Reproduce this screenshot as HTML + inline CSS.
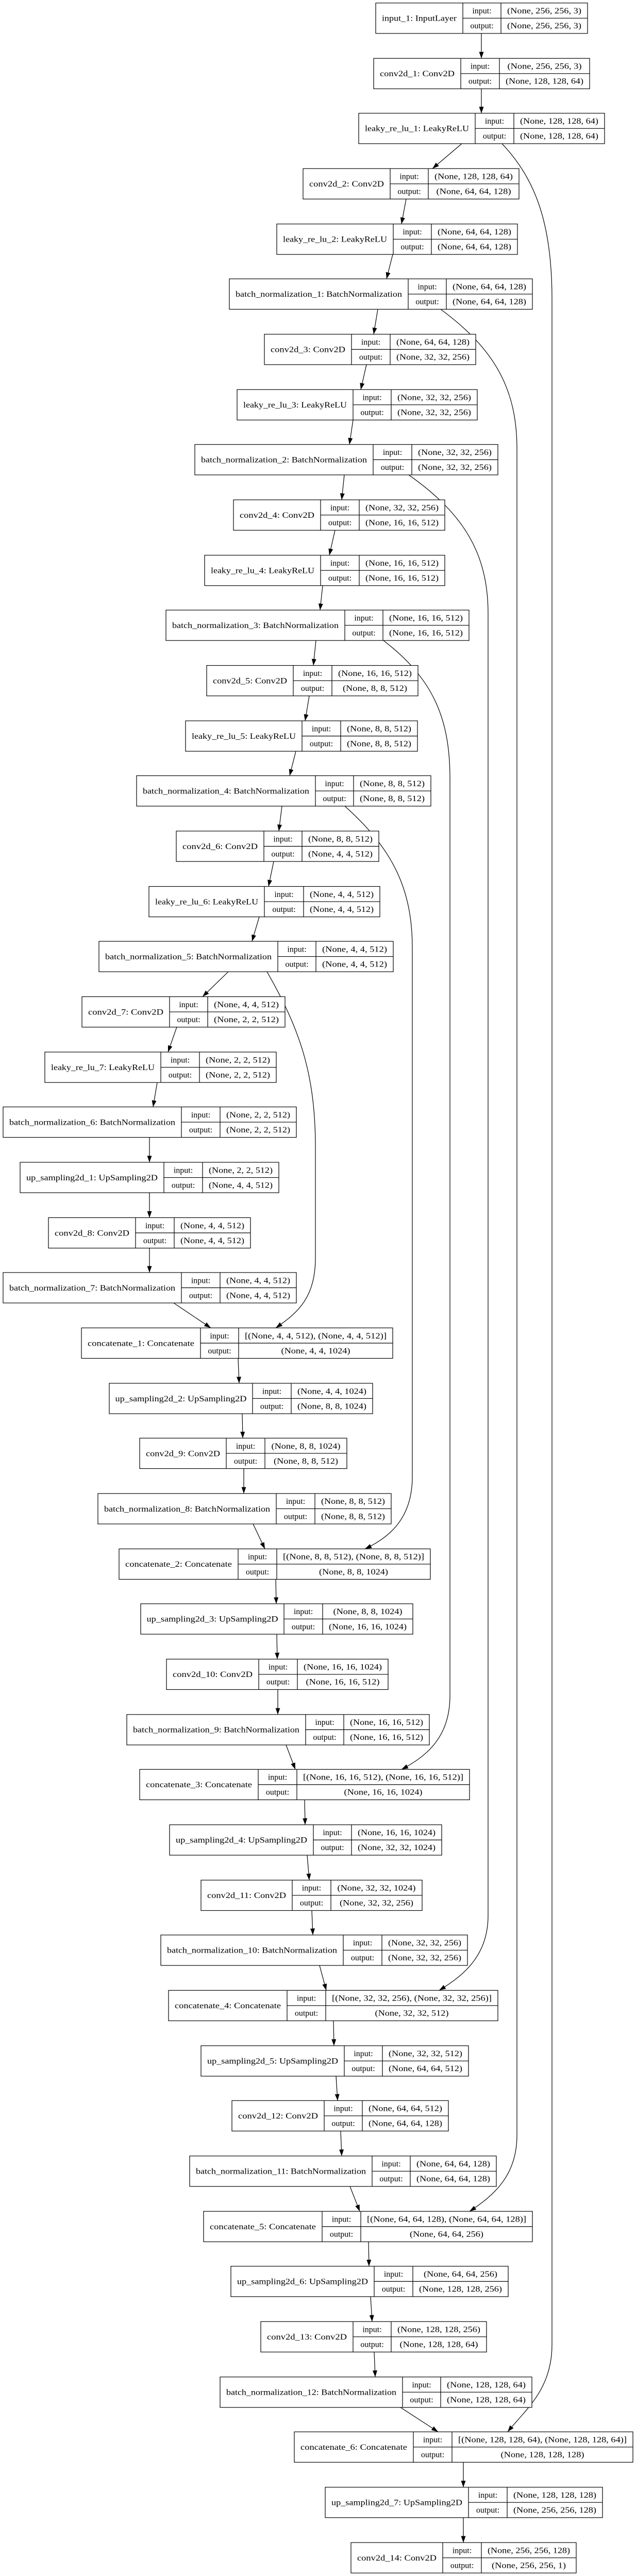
<!DOCTYPE html>
<html><head><meta charset="utf-8"><style>
html,body{margin:0;padding:0;background:#fff;width:100%;height:100%;overflow:hidden;}
svg{display:block;position:fixed;left:0;top:0;width:100vw;height:100vh;}
text{font-family:"Liberation Serif","DejaVu Serif",serif;font-size:16px;fill:#000;}
</style></head><body>
<svg xmlns="http://www.w3.org/2000/svg" viewBox="0 0 1234 5164" preserveAspectRatio="none">
<defs>
<marker id="a" markerUnits="userSpaceOnUse" markerWidth="14" markerHeight="10" refX="13" refY="4.5" orient="auto"><path d="M0,0 L13,4.5 L0,9 z" fill="#000"/></marker>
</defs>
<rect width="1234" height="5164" fill="#fff"/>
<g fill="none" stroke="#000" stroke-width="1.2" marker-end="url(#a)">
<path d="M934,67 L934,117"/>
<path d="M934,178 L934,227"/>
<path d="M896,288 L839,338"/>
<path d="M788,399 L779,449"/>
<path d="M762,510 L750,559"/>
<path d="M733,620 L725,670"/>
<path d="M711,731 L700,781"/>
<path d="M685,842 L678,891"/>
<path d="M668,952 L663,1002"/>
<path d="M650,1063 L639,1113"/>
<path d="M626,1174 L621,1223"/>
<path d="M613,1284 L608,1334"/>
<path d="M600,1395 L592,1445"/>
<path d="M574,1506 L562,1555"/>
<path d="M547,1616 L541,1666"/>
<path d="M531,1727 L521,1777"/>
<path d="M503,1838 L489,1887"/>
<path d="M443,1948 L393,1998"/>
<path d="M343,2059 L326,2109"/>
<path d="M305,2170 L297,2219"/>
<path d="M290,2280 L290,2330"/>
<path d="M290,2391 L290,2441"/>
<path d="M290,2502 L290,2551"/>
<path d="M337,2612 L409,2662"/>
<path d="M462,2723 L464,2773"/>
<path d="M470,2834 L471,2883"/>
<path d="M473,2944 L473,2994"/>
<path d="M491,3055 L514,3105"/>
<path d="M535,3166 L536,3215"/>
<path d="M537,3276 L538,3326"/>
<path d="M539,3387 L539,3437"/>
<path d="M555,3498 L573,3547"/>
<path d="M591,3608 L592,3658"/>
<path d="M596,3719 L600,3769"/>
<path d="M605,3830 L607,3879"/>
<path d="M620,3940 L633,3990"/>
<path d="M647,4051 L648,4101"/>
<path d="M652,4162 L655,4211"/>
<path d="M661,4272 L663,4322"/>
<path d="M679,4383 L698,4433"/>
<path d="M715,4494 L716,4543"/>
<path d="M719,4604 L722,4654"/>
<path d="M726,4715 L728,4765"/>
<path d="M777,4826 L850,4875"/>
<path d="M899,4936 L899,4986"/>
<path d="M899,5047 L899,5097"/>
<path d="M974,288 C1040,360 1071,450 1071,600 L1071,4700 C1071,4790 1020,4830 985,4875"/>
<path d="M855,620 C960,700 1003,780 1003,900 L1003,4280 C1003,4360 960,4400 911,4433"/>
<path d="M793,952 C900,1030 947,1110 947,1230 L947,3840 C947,3920 900,3960 852,3990"/>
<path d="M744,1284 C840,1360 873,1440 873,1560 L873,3400 C873,3480 830,3520 779,3547"/>
<path d="M669,1616 C760,1700 800,1780 800,1900 L800,2960 C800,3040 760,3080 708,3105"/>
<path d="M518,1948 C580,2060 612,2150 612,2300 L612,2520 C612,2600 580,2630 535,2662"/>
</g>
<g text-anchor="middle">
<g transform="translate(0,6)"><rect x="729" y="0" width="411" height="61" fill="#fff" stroke="#000" stroke-width="1.2"/><path d="M898,0V61M972,0V61M898,30.5H1140" stroke="#000" stroke-width="1.2"/><text x="813.5" y="36" textLength="145" lengthAdjust="spacingAndGlyphs">input_1: InputLayer</text><text x="935" y="21">input:</text><text x="935" y="51">output:</text><text x="1056" y="21" textLength="144" lengthAdjust="spacingAndGlyphs">(None, 256, 256, 3)</text><text x="1056" y="51" textLength="144" lengthAdjust="spacingAndGlyphs">(None, 256, 256, 3)</text></g>
<g transform="translate(0,117)"><rect x="725" y="0" width="419" height="61" fill="#fff" stroke="#000" stroke-width="1.2"/><path d="M894,0V61M969,0V61M894,30.5H1144" stroke="#000" stroke-width="1.2"/><text x="809.5" y="36" textLength="145" lengthAdjust="spacingAndGlyphs">conv2d_1: Conv2D</text><text x="931.5" y="21">input:</text><text x="931.5" y="51">output:</text><text x="1056.5" y="21" textLength="144" lengthAdjust="spacingAndGlyphs">(None, 256, 256, 3)</text><text x="1056.5" y="51" textLength="151" lengthAdjust="spacingAndGlyphs">(None, 128, 128, 64)</text></g>
<g transform="translate(0,227)"><rect x="696" y="0" width="477" height="61" fill="#fff" stroke="#000" stroke-width="1.2"/><path d="M922,0V61M997,0V61M922,30.5H1173" stroke="#000" stroke-width="1.2"/><text x="809" y="36" textLength="202" lengthAdjust="spacingAndGlyphs">leaky_re_lu_1: LeakyReLU</text><text x="959.5" y="21">input:</text><text x="959.5" y="51">output:</text><text x="1085" y="21" textLength="152" lengthAdjust="spacingAndGlyphs">(None, 128, 128, 64)</text><text x="1085" y="51" textLength="152" lengthAdjust="spacingAndGlyphs">(None, 128, 128, 64)</text></g>
<g transform="translate(0,338)"><rect x="588" y="0" width="419" height="61" fill="#fff" stroke="#000" stroke-width="1.2"/><path d="M757,0V61M831,0V61M757,30.5H1007" stroke="#000" stroke-width="1.2"/><text x="672.5" y="36" textLength="145" lengthAdjust="spacingAndGlyphs">conv2d_2: Conv2D</text><text x="794" y="21">input:</text><text x="794" y="51">output:</text><text x="919" y="21" textLength="152" lengthAdjust="spacingAndGlyphs">(None, 128, 128, 64)</text><text x="919" y="51" textLength="145" lengthAdjust="spacingAndGlyphs">(None, 64, 64, 128)</text></g>
<g transform="translate(0,449)"><rect x="537" y="0" width="467" height="61" fill="#fff" stroke="#000" stroke-width="1.2"/><path d="M763,0V61M837,0V61M763,30.5H1004" stroke="#000" stroke-width="1.2"/><text x="650" y="36" textLength="202" lengthAdjust="spacingAndGlyphs">leaky_re_lu_2: LeakyReLU</text><text x="800" y="21">input:</text><text x="800" y="51">output:</text><text x="920.5" y="21" textLength="143" lengthAdjust="spacingAndGlyphs">(None, 64, 64, 128)</text><text x="920.5" y="51" textLength="143" lengthAdjust="spacingAndGlyphs">(None, 64, 64, 128)</text></g>
<g transform="translate(0,559)"><rect x="445" y="0" width="588" height="61" fill="#fff" stroke="#000" stroke-width="1.2"/><path d="M792,0V61M866,0V61M792,30.5H1033" stroke="#000" stroke-width="1.2"/><text x="618.5" y="36" textLength="323" lengthAdjust="spacingAndGlyphs">batch_normalization_1: BatchNormalization</text><text x="829" y="21">input:</text><text x="829" y="51">output:</text><text x="949.5" y="21" textLength="143" lengthAdjust="spacingAndGlyphs">(None, 64, 64, 128)</text><text x="949.5" y="51" textLength="143" lengthAdjust="spacingAndGlyphs">(None, 64, 64, 128)</text></g>
<g transform="translate(0,670)"><rect x="513" y="0" width="410" height="61" fill="#fff" stroke="#000" stroke-width="1.2"/><path d="M682,0V61M757,0V61M682,30.5H923" stroke="#000" stroke-width="1.2"/><text x="597.5" y="36" textLength="145" lengthAdjust="spacingAndGlyphs">conv2d_3: Conv2D</text><text x="719.5" y="21">input:</text><text x="719.5" y="51">output:</text><text x="840" y="21" textLength="142" lengthAdjust="spacingAndGlyphs">(None, 64, 64, 128)</text><text x="840" y="51" textLength="142" lengthAdjust="spacingAndGlyphs">(None, 32, 32, 256)</text></g>
<g transform="translate(0,781)"><rect x="460" y="0" width="466" height="61" fill="#fff" stroke="#000" stroke-width="1.2"/><path d="M685,0V61M759,0V61M685,30.5H926" stroke="#000" stroke-width="1.2"/><text x="572.5" y="36" textLength="201" lengthAdjust="spacingAndGlyphs">leaky_re_lu_3: LeakyReLU</text><text x="722" y="21">input:</text><text x="722" y="51">output:</text><text x="842.5" y="21" textLength="143" lengthAdjust="spacingAndGlyphs">(None, 32, 32, 256)</text><text x="842.5" y="51" textLength="143" lengthAdjust="spacingAndGlyphs">(None, 32, 32, 256)</text></g>
<g transform="translate(0,891)"><rect x="378" y="0" width="588" height="61" fill="#fff" stroke="#000" stroke-width="1.2"/><path d="M724,0V61M799,0V61M724,30.5H966" stroke="#000" stroke-width="1.2"/><text x="551" y="36" textLength="322" lengthAdjust="spacingAndGlyphs">batch_normalization_2: BatchNormalization</text><text x="761.5" y="21">input:</text><text x="761.5" y="51">output:</text><text x="882.5" y="21" textLength="143" lengthAdjust="spacingAndGlyphs">(None, 32, 32, 256)</text><text x="882.5" y="51" textLength="143" lengthAdjust="spacingAndGlyphs">(None, 32, 32, 256)</text></g>
<g transform="translate(0,1002)"><rect x="453" y="0" width="410" height="61" fill="#fff" stroke="#000" stroke-width="1.2"/><path d="M622,0V61M697,0V61M622,30.5H863" stroke="#000" stroke-width="1.2"/><text x="537.5" y="36" textLength="145" lengthAdjust="spacingAndGlyphs">conv2d_4: Conv2D</text><text x="659.5" y="21">input:</text><text x="659.5" y="51">output:</text><text x="780" y="21" textLength="142" lengthAdjust="spacingAndGlyphs">(None, 32, 32, 256)</text><text x="780" y="51" textLength="142" lengthAdjust="spacingAndGlyphs">(None, 16, 16, 512)</text></g>
<g transform="translate(0,1113)"><rect x="397" y="0" width="466" height="61" fill="#fff" stroke="#000" stroke-width="1.2"/><path d="M622,0V61M697,0V61M622,30.5H863" stroke="#000" stroke-width="1.2"/><text x="509.5" y="36" textLength="201" lengthAdjust="spacingAndGlyphs">leaky_re_lu_4: LeakyReLU</text><text x="659.5" y="21">input:</text><text x="659.5" y="51">output:</text><text x="780" y="21" textLength="142" lengthAdjust="spacingAndGlyphs">(None, 16, 16, 512)</text><text x="780" y="51" textLength="142" lengthAdjust="spacingAndGlyphs">(None, 16, 16, 512)</text></g>
<g transform="translate(0,1223)"><rect x="322" y="0" width="588" height="61" fill="#fff" stroke="#000" stroke-width="1.2"/><path d="M669,0V61M743,0V61M669,30.5H910" stroke="#000" stroke-width="1.2"/><text x="495.5" y="36" textLength="323" lengthAdjust="spacingAndGlyphs">batch_normalization_3: BatchNormalization</text><text x="706" y="21">input:</text><text x="706" y="51">output:</text><text x="826.5" y="21" textLength="143" lengthAdjust="spacingAndGlyphs">(None, 16, 16, 512)</text><text x="826.5" y="51" textLength="143" lengthAdjust="spacingAndGlyphs">(None, 16, 16, 512)</text></g>
<g transform="translate(0,1334)"><rect x="401" y="0" width="410" height="61" fill="#fff" stroke="#000" stroke-width="1.2"/><path d="M569,0V61M644,0V61M569,30.5H811" stroke="#000" stroke-width="1.2"/><text x="485" y="36" textLength="144" lengthAdjust="spacingAndGlyphs">conv2d_5: Conv2D</text><text x="606.5" y="21">input:</text><text x="606.5" y="51">output:</text><text x="727.5" y="21" textLength="143" lengthAdjust="spacingAndGlyphs">(None, 16, 16, 512)</text><text x="727.5" y="51" textLength="125" lengthAdjust="spacingAndGlyphs">(None, 8, 8, 512)</text></g>
<g transform="translate(0,1445)"><rect x="360" y="0" width="450" height="61" fill="#fff" stroke="#000" stroke-width="1.2"/><path d="M586,0V61M661,0V61M586,30.5H810" stroke="#000" stroke-width="1.2"/><text x="473" y="36" textLength="202" lengthAdjust="spacingAndGlyphs">leaky_re_lu_5: LeakyReLU</text><text x="623.5" y="21">input:</text><text x="623.5" y="51">output:</text><text x="735.5" y="21" textLength="125" lengthAdjust="spacingAndGlyphs">(None, 8, 8, 512)</text><text x="735.5" y="51" textLength="125" lengthAdjust="spacingAndGlyphs">(None, 8, 8, 512)</text></g>
<g transform="translate(0,1555)"><rect x="265" y="0" width="571" height="61" fill="#fff" stroke="#000" stroke-width="1.2"/><path d="M612,0V61M686,0V61M612,30.5H836" stroke="#000" stroke-width="1.2"/><text x="438.5" y="36" textLength="323" lengthAdjust="spacingAndGlyphs">batch_normalization_4: BatchNormalization</text><text x="649" y="21">input:</text><text x="649" y="51">output:</text><text x="761" y="21" textLength="126" lengthAdjust="spacingAndGlyphs">(None, 8, 8, 512)</text><text x="761" y="51" textLength="126" lengthAdjust="spacingAndGlyphs">(None, 8, 8, 512)</text></g>
<g transform="translate(0,1666)"><rect x="342" y="0" width="393" height="61" fill="#fff" stroke="#000" stroke-width="1.2"/><path d="M512,0V61M586,0V61M512,30.5H735" stroke="#000" stroke-width="1.2"/><text x="427" y="36" textLength="146" lengthAdjust="spacingAndGlyphs">conv2d_6: Conv2D</text><text x="549" y="21">input:</text><text x="549" y="51">output:</text><text x="660.5" y="21" textLength="125" lengthAdjust="spacingAndGlyphs">(None, 8, 8, 512)</text><text x="660.5" y="51" textLength="125" lengthAdjust="spacingAndGlyphs">(None, 4, 4, 512)</text></g>
<g transform="translate(0,1777)"><rect x="289" y="0" width="448" height="61" fill="#fff" stroke="#000" stroke-width="1.2"/><path d="M513,0V61M589,0V61M513,30.5H737" stroke="#000" stroke-width="1.2"/><text x="401" y="36" textLength="200" lengthAdjust="spacingAndGlyphs">leaky_re_lu_6: LeakyReLU</text><text x="551" y="21">input:</text><text x="551" y="51">output:</text><text x="663" y="21" textLength="124" lengthAdjust="spacingAndGlyphs">(None, 4, 4, 512)</text><text x="663" y="51" textLength="124" lengthAdjust="spacingAndGlyphs">(None, 4, 4, 512)</text></g>
<g transform="translate(0,1887)"><rect x="192" y="0" width="571" height="61" fill="#fff" stroke="#000" stroke-width="1.2"/><path d="M539,0V61M613,0V61M539,30.5H763" stroke="#000" stroke-width="1.2"/><text x="365.5" y="36" textLength="323" lengthAdjust="spacingAndGlyphs">batch_normalization_5: BatchNormalization</text><text x="576" y="21">input:</text><text x="576" y="51">output:</text><text x="688" y="21" textLength="126" lengthAdjust="spacingAndGlyphs">(None, 4, 4, 512)</text><text x="688" y="51" textLength="126" lengthAdjust="spacingAndGlyphs">(None, 4, 4, 512)</text></g>
<g transform="translate(0,1998)"><rect x="159" y="0" width="394" height="61" fill="#fff" stroke="#000" stroke-width="1.2"/><path d="M329,0V61M403,0V61M329,30.5H553" stroke="#000" stroke-width="1.2"/><text x="244" y="36" textLength="146" lengthAdjust="spacingAndGlyphs">conv2d_7: Conv2D</text><text x="366" y="21">input:</text><text x="366" y="51">output:</text><text x="478" y="21" textLength="126" lengthAdjust="spacingAndGlyphs">(None, 4, 4, 512)</text><text x="478" y="51" textLength="126" lengthAdjust="spacingAndGlyphs">(None, 2, 2, 512)</text></g>
<g transform="translate(0,2109)"><rect x="87" y="0" width="449" height="61" fill="#fff" stroke="#000" stroke-width="1.2"/><path d="M312,0V61M387,0V61M312,30.5H536" stroke="#000" stroke-width="1.2"/><text x="199.5" y="36" textLength="201" lengthAdjust="spacingAndGlyphs">leaky_re_lu_7: LeakyReLU</text><text x="349.5" y="21">input:</text><text x="349.5" y="51">output:</text><text x="461.5" y="21" textLength="125" lengthAdjust="spacingAndGlyphs">(None, 2, 2, 512)</text><text x="461.5" y="51" textLength="125" lengthAdjust="spacingAndGlyphs">(None, 2, 2, 512)</text></g>
<g transform="translate(0,2219)"><rect x="6" y="0" width="569" height="61" fill="#fff" stroke="#000" stroke-width="1.2"/><path d="M352,0V61M427,0V61M352,30.5H575" stroke="#000" stroke-width="1.2"/><text x="179" y="36" textLength="322" lengthAdjust="spacingAndGlyphs">batch_normalization_6: BatchNormalization</text><text x="389.5" y="21">input:</text><text x="389.5" y="51">output:</text><text x="501" y="21" textLength="124" lengthAdjust="spacingAndGlyphs">(None, 2, 2, 512)</text><text x="501" y="51" textLength="124" lengthAdjust="spacingAndGlyphs">(None, 2, 2, 512)</text></g>
<g transform="translate(0,2330)"><rect x="39" y="0" width="502" height="61" fill="#fff" stroke="#000" stroke-width="1.2"/><path d="M318,0V61M393,0V61M318,30.5H541" stroke="#000" stroke-width="1.2"/><text x="178.5" y="36" textLength="255" lengthAdjust="spacingAndGlyphs">up_sampling2d_1: UpSampling2D</text><text x="355.5" y="21">input:</text><text x="355.5" y="51">output:</text><text x="467" y="21" textLength="124" lengthAdjust="spacingAndGlyphs">(None, 2, 2, 512)</text><text x="467" y="51" textLength="124" lengthAdjust="spacingAndGlyphs">(None, 4, 4, 512)</text></g>
<g transform="translate(0,2441)"><rect x="94" y="0" width="392" height="61" fill="#fff" stroke="#000" stroke-width="1.2"/><path d="M263,0V61M338,0V61M263,30.5H486" stroke="#000" stroke-width="1.2"/><text x="178.5" y="36" textLength="145" lengthAdjust="spacingAndGlyphs">conv2d_8: Conv2D</text><text x="300.5" y="21">input:</text><text x="300.5" y="51">output:</text><text x="412" y="21" textLength="124" lengthAdjust="spacingAndGlyphs">(None, 4, 4, 512)</text><text x="412" y="51" textLength="124" lengthAdjust="spacingAndGlyphs">(None, 4, 4, 512)</text></g>
<g transform="translate(0,2551)"><rect x="6" y="0" width="569" height="61" fill="#fff" stroke="#000" stroke-width="1.2"/><path d="M352,0V61M427,0V61M352,30.5H575" stroke="#000" stroke-width="1.2"/><text x="179" y="36" textLength="322" lengthAdjust="spacingAndGlyphs">batch_normalization_7: BatchNormalization</text><text x="389.5" y="21">input:</text><text x="389.5" y="51">output:</text><text x="501" y="21" textLength="124" lengthAdjust="spacingAndGlyphs">(None, 4, 4, 512)</text><text x="501" y="51" textLength="124" lengthAdjust="spacingAndGlyphs">(None, 4, 4, 512)</text></g>
<g transform="translate(0,2662)"><rect x="158" y="0" width="604" height="61" fill="#fff" stroke="#000" stroke-width="1.2"/><path d="M389,0V61M463,0V61M389,30.5H762" stroke="#000" stroke-width="1.2"/><text x="273.5" y="36" textLength="207" lengthAdjust="spacingAndGlyphs">concatenate_1: Concatenate</text><text x="426" y="21">input:</text><text x="426" y="51">output:</text><text x="612.5" y="21" textLength="275" lengthAdjust="spacingAndGlyphs">[(None, 4, 4, 512), (None, 4, 4, 512)]</text><text x="612.5" y="51" textLength="134" lengthAdjust="spacingAndGlyphs">(None, 4, 4, 1024)</text></g>
<g transform="translate(0,2773)"><rect x="212" y="0" width="511" height="61" fill="#fff" stroke="#000" stroke-width="1.2"/><path d="M490,0V61M565,0V61M490,30.5H723" stroke="#000" stroke-width="1.2"/><text x="351" y="36" textLength="255" lengthAdjust="spacingAndGlyphs">up_sampling2d_2: UpSampling2D</text><text x="527.5" y="21">input:</text><text x="527.5" y="51">output:</text><text x="644" y="21" textLength="134" lengthAdjust="spacingAndGlyphs">(None, 4, 4, 1024)</text><text x="644" y="51" textLength="134" lengthAdjust="spacingAndGlyphs">(None, 8, 8, 1024)</text></g>
<g transform="translate(0,2883)"><rect x="271" y="0" width="402" height="61" fill="#fff" stroke="#000" stroke-width="1.2"/><path d="M439,0V61M514,0V61M439,30.5H673" stroke="#000" stroke-width="1.2"/><text x="355" y="36" textLength="144" lengthAdjust="spacingAndGlyphs">conv2d_9: Conv2D</text><text x="476.5" y="21">input:</text><text x="476.5" y="51">output:</text><text x="593.5" y="21" textLength="134" lengthAdjust="spacingAndGlyphs">(None, 8, 8, 1024)</text><text x="593.5" y="51" textLength="125" lengthAdjust="spacingAndGlyphs">(None, 8, 8, 512)</text></g>
<g transform="translate(0,2994)"><rect x="190" y="0" width="569" height="61" fill="#fff" stroke="#000" stroke-width="1.2"/><path d="M536,0V61M611,0V61M536,30.5H759" stroke="#000" stroke-width="1.2"/><text x="363" y="36" textLength="322" lengthAdjust="spacingAndGlyphs">batch_normalization_8: BatchNormalization</text><text x="573.5" y="21">input:</text><text x="573.5" y="51">output:</text><text x="685" y="21" textLength="124" lengthAdjust="spacingAndGlyphs">(None, 8, 8, 512)</text><text x="685" y="51" textLength="124" lengthAdjust="spacingAndGlyphs">(None, 8, 8, 512)</text></g>
<g transform="translate(0,3105)"><rect x="231" y="0" width="604" height="61" fill="#fff" stroke="#000" stroke-width="1.2"/><path d="M462,0V61M537,0V61M462,30.5H835" stroke="#000" stroke-width="1.2"/><text x="346.5" y="36" textLength="207" lengthAdjust="spacingAndGlyphs">concatenate_2: Concatenate</text><text x="499.5" y="21">input:</text><text x="499.5" y="51">output:</text><text x="686" y="21" textLength="274" lengthAdjust="spacingAndGlyphs">[(None, 8, 8, 512), (None, 8, 8, 512)]</text><text x="686" y="51" textLength="134" lengthAdjust="spacingAndGlyphs">(None, 8, 8, 1024)</text></g>
<g transform="translate(0,3215)"><rect x="273" y="0" width="528" height="61" fill="#fff" stroke="#000" stroke-width="1.2"/><path d="M551,0V61M626,0V61M551,30.5H801" stroke="#000" stroke-width="1.2"/><text x="412" y="36" textLength="255" lengthAdjust="spacingAndGlyphs">up_sampling2d_3: UpSampling2D</text><text x="588.5" y="21">input:</text><text x="588.5" y="51">output:</text><text x="713.5" y="21" textLength="134" lengthAdjust="spacingAndGlyphs">(None, 8, 8, 1024)</text><text x="713.5" y="51" textLength="151" lengthAdjust="spacingAndGlyphs">(None, 16, 16, 1024)</text></g>
<g transform="translate(0,3326)"><rect x="323" y="0" width="430" height="61" fill="#fff" stroke="#000" stroke-width="1.2"/><path d="M502,0V61M577,0V61M502,30.5H753" stroke="#000" stroke-width="1.2"/><text x="412.5" y="36" textLength="155" lengthAdjust="spacingAndGlyphs">conv2d_10: Conv2D</text><text x="539.5" y="21">input:</text><text x="539.5" y="51">output:</text><text x="665" y="21" textLength="152" lengthAdjust="spacingAndGlyphs">(None, 16, 16, 1024)</text><text x="665" y="51" textLength="143" lengthAdjust="spacingAndGlyphs">(None, 16, 16, 512)</text></g>
<g transform="translate(0,3437)"><rect x="246" y="0" width="587" height="61" fill="#fff" stroke="#000" stroke-width="1.2"/><path d="M593,0V61M667,0V61M593,30.5H833" stroke="#000" stroke-width="1.2"/><text x="419.5" y="36" textLength="323" lengthAdjust="spacingAndGlyphs">batch_normalization_9: BatchNormalization</text><text x="630" y="21">input:</text><text x="630" y="51">output:</text><text x="750" y="21" textLength="142" lengthAdjust="spacingAndGlyphs">(None, 16, 16, 512)</text><text x="750" y="51" textLength="142" lengthAdjust="spacingAndGlyphs">(None, 16, 16, 512)</text></g>
<g transform="translate(0,3547)"><rect x="271" y="0" width="640" height="61" fill="#fff" stroke="#000" stroke-width="1.2"/><path d="M501,0V61M576,0V61M501,30.5H911" stroke="#000" stroke-width="1.2"/><text x="386" y="36" textLength="206" lengthAdjust="spacingAndGlyphs">concatenate_3: Concatenate</text><text x="538.5" y="21">input:</text><text x="538.5" y="51">output:</text><text x="743.5" y="21" textLength="311" lengthAdjust="spacingAndGlyphs">[(None, 16, 16, 512), (None, 16, 16, 512)]</text><text x="743.5" y="51" textLength="152" lengthAdjust="spacingAndGlyphs">(None, 16, 16, 1024)</text></g>
<g transform="translate(0,3658)"><rect x="329" y="0" width="528" height="61" fill="#fff" stroke="#000" stroke-width="1.2"/><path d="M608,0V61M682,0V61M608,30.5H857" stroke="#000" stroke-width="1.2"/><text x="468.5" y="36" textLength="255" lengthAdjust="spacingAndGlyphs">up_sampling2d_4: UpSampling2D</text><text x="645" y="21">input:</text><text x="645" y="51">output:</text><text x="769.5" y="21" textLength="151" lengthAdjust="spacingAndGlyphs">(None, 16, 16, 1024)</text><text x="769.5" y="51" textLength="151" lengthAdjust="spacingAndGlyphs">(None, 32, 32, 1024)</text></g>
<g transform="translate(0,3769)"><rect x="390" y="0" width="429" height="61" fill="#fff" stroke="#000" stroke-width="1.2"/><path d="M567,0V61M642,0V61M567,30.5H819" stroke="#000" stroke-width="1.2"/><text x="478.5" y="36" textLength="153" lengthAdjust="spacingAndGlyphs">conv2d_11: Conv2D</text><text x="604.5" y="21">input:</text><text x="604.5" y="51">output:</text><text x="730.5" y="21" textLength="152" lengthAdjust="spacingAndGlyphs">(None, 32, 32, 1024)</text><text x="730.5" y="51" textLength="143" lengthAdjust="spacingAndGlyphs">(None, 32, 32, 256)</text></g>
<g transform="translate(0,3879)"><rect x="312" y="0" width="595" height="61" fill="#fff" stroke="#000" stroke-width="1.2"/><path d="M666,0V61M741,0V61M666,30.5H907" stroke="#000" stroke-width="1.2"/><text x="489" y="36" textLength="330" lengthAdjust="spacingAndGlyphs">batch_normalization_10: BatchNormalization</text><text x="703.5" y="21">input:</text><text x="703.5" y="51">output:</text><text x="824" y="21" textLength="142" lengthAdjust="spacingAndGlyphs">(None, 32, 32, 256)</text><text x="824" y="51" textLength="142" lengthAdjust="spacingAndGlyphs">(None, 32, 32, 256)</text></g>
<g transform="translate(0,3990)"><rect x="327" y="0" width="639" height="61" fill="#fff" stroke="#000" stroke-width="1.2"/><path d="M557,0V61M632,0V61M557,30.5H966" stroke="#000" stroke-width="1.2"/><text x="442" y="36" textLength="206" lengthAdjust="spacingAndGlyphs">concatenate_4: Concatenate</text><text x="594.5" y="21">input:</text><text x="594.5" y="51">output:</text><text x="799" y="21" textLength="310" lengthAdjust="spacingAndGlyphs">[(None, 32, 32, 256), (None, 32, 32, 256)]</text><text x="799" y="51" textLength="143" lengthAdjust="spacingAndGlyphs">(None, 32, 32, 512)</text></g>
<g transform="translate(0,4101)"><rect x="390" y="0" width="519" height="61" fill="#fff" stroke="#000" stroke-width="1.2"/><path d="M668,0V61M742,0V61M668,30.5H909" stroke="#000" stroke-width="1.2"/><text x="529" y="36" textLength="254" lengthAdjust="spacingAndGlyphs">up_sampling2d_5: UpSampling2D</text><text x="705" y="21">input:</text><text x="705" y="51">output:</text><text x="825.5" y="21" textLength="143" lengthAdjust="spacingAndGlyphs">(None, 32, 32, 512)</text><text x="825.5" y="51" textLength="143" lengthAdjust="spacingAndGlyphs">(None, 64, 64, 512)</text></g>
<g transform="translate(0,4211)"><rect x="450" y="0" width="420" height="61" fill="#fff" stroke="#000" stroke-width="1.2"/><path d="M629,0V61M703,0V61M629,30.5H870" stroke="#000" stroke-width="1.2"/><text x="539.5" y="36" textLength="155" lengthAdjust="spacingAndGlyphs">conv2d_12: Conv2D</text><text x="666" y="21">input:</text><text x="666" y="51">output:</text><text x="786.5" y="21" textLength="143" lengthAdjust="spacingAndGlyphs">(None, 64, 64, 512)</text><text x="786.5" y="51" textLength="143" lengthAdjust="spacingAndGlyphs">(None, 64, 64, 128)</text></g>
<g transform="translate(0,4322)"><rect x="368" y="0" width="595" height="61" fill="#fff" stroke="#000" stroke-width="1.2"/><path d="M722,0V61M796,0V61M722,30.5H963" stroke="#000" stroke-width="1.2"/><text x="545" y="36" textLength="330" lengthAdjust="spacingAndGlyphs">batch_normalization_11: BatchNormalization</text><text x="759" y="21">input:</text><text x="759" y="51">output:</text><text x="879.5" y="21" textLength="143" lengthAdjust="spacingAndGlyphs">(None, 64, 64, 128)</text><text x="879.5" y="51" textLength="143" lengthAdjust="spacingAndGlyphs">(None, 64, 64, 128)</text></g>
<g transform="translate(0,4433)"><rect x="395" y="0" width="638" height="61" fill="#fff" stroke="#000" stroke-width="1.2"/><path d="M625,0V61M700,0V61M625,30.5H1033" stroke="#000" stroke-width="1.2"/><text x="510" y="36" textLength="206" lengthAdjust="spacingAndGlyphs">concatenate_5: Concatenate</text><text x="662.5" y="21">input:</text><text x="662.5" y="51">output:</text><text x="866.5" y="21" textLength="309" lengthAdjust="spacingAndGlyphs">[(None, 64, 64, 128), (None, 64, 64, 128)]</text><text x="866.5" y="51" textLength="143" lengthAdjust="spacingAndGlyphs">(None, 64, 64, 256)</text></g>
<g transform="translate(0,4543)"><rect x="448" y="0" width="538" height="61" fill="#fff" stroke="#000" stroke-width="1.2"/><path d="M726,0V61M801,0V61M726,30.5H986" stroke="#000" stroke-width="1.2"/><text x="587" y="36" textLength="254" lengthAdjust="spacingAndGlyphs">up_sampling2d_6: UpSampling2D</text><text x="763.5" y="21">input:</text><text x="763.5" y="51">output:</text><text x="893.5" y="21" textLength="143" lengthAdjust="spacingAndGlyphs">(None, 64, 64, 256)</text><text x="893.5" y="51" textLength="161" lengthAdjust="spacingAndGlyphs">(None, 128, 128, 256)</text></g>
<g transform="translate(0,4654)"><rect x="506" y="0" width="438" height="61" fill="#fff" stroke="#000" stroke-width="1.2"/><path d="M685,0V61M759,0V61M685,30.5H944" stroke="#000" stroke-width="1.2"/><text x="595.5" y="36" textLength="155" lengthAdjust="spacingAndGlyphs">conv2d_13: Conv2D</text><text x="722" y="21">input:</text><text x="722" y="51">output:</text><text x="851.5" y="21" textLength="161" lengthAdjust="spacingAndGlyphs">(None, 128, 128, 256)</text><text x="851.5" y="51" textLength="152" lengthAdjust="spacingAndGlyphs">(None, 128, 128, 64)</text></g>
<g transform="translate(0,4765)"><rect x="427" y="0" width="605" height="61" fill="#fff" stroke="#000" stroke-width="1.2"/><path d="M781,0V61M855,0V61M781,30.5H1032" stroke="#000" stroke-width="1.2"/><text x="604" y="36" textLength="330" lengthAdjust="spacingAndGlyphs">batch_normalization_12: BatchNormalization</text><text x="818" y="21">input:</text><text x="818" y="51">output:</text><text x="943.5" y="21" textLength="153" lengthAdjust="spacingAndGlyphs">(None, 128, 128, 64)</text><text x="943.5" y="51" textLength="153" lengthAdjust="spacingAndGlyphs">(None, 128, 128, 64)</text></g>
<g transform="translate(0,4875)"><rect x="571" y="0" width="657" height="61" fill="#fff" stroke="#000" stroke-width="1.2"/><path d="M802,0V61M877,0V61M802,30.5H1228" stroke="#000" stroke-width="1.2"/><text x="686.5" y="36" textLength="207" lengthAdjust="spacingAndGlyphs">concatenate_6: Concatenate</text><text x="839.5" y="21">input:</text><text x="839.5" y="51">output:</text><text x="1052.5" y="21" textLength="327" lengthAdjust="spacingAndGlyphs">[(None, 128, 128, 64), (None, 128, 128, 64)]</text><text x="1052.5" y="51" textLength="162" lengthAdjust="spacingAndGlyphs">(None, 128, 128, 128)</text></g>
<g transform="translate(0,4986)"><rect x="631" y="0" width="538" height="61" fill="#fff" stroke="#000" stroke-width="1.2"/><path d="M909,0V61M984,0V61M909,30.5H1169" stroke="#000" stroke-width="1.2"/><text x="770" y="36" textLength="254" lengthAdjust="spacingAndGlyphs">up_sampling2d_7: UpSampling2D</text><text x="946.5" y="21">input:</text><text x="946.5" y="51">output:</text><text x="1076.5" y="21" textLength="161" lengthAdjust="spacingAndGlyphs">(None, 128, 128, 128)</text><text x="1076.5" y="51" textLength="161" lengthAdjust="spacingAndGlyphs">(None, 256, 256, 128)</text></g>
<g transform="translate(0,5097)"><rect x="681" y="0" width="437" height="61" fill="#fff" stroke="#000" stroke-width="1.2"/><path d="M859,0V61M934,0V61M859,30.5H1118" stroke="#000" stroke-width="1.2"/><text x="770" y="36" textLength="154" lengthAdjust="spacingAndGlyphs">conv2d_14: Conv2D</text><text x="896.5" y="21">input:</text><text x="896.5" y="51">output:</text><text x="1026" y="21" textLength="160" lengthAdjust="spacingAndGlyphs">(None, 256, 256, 128)</text><text x="1026" y="51" textLength="144" lengthAdjust="spacingAndGlyphs">(None, 256, 256, 1)</text></g>
</g>
</svg>
</body></html>
